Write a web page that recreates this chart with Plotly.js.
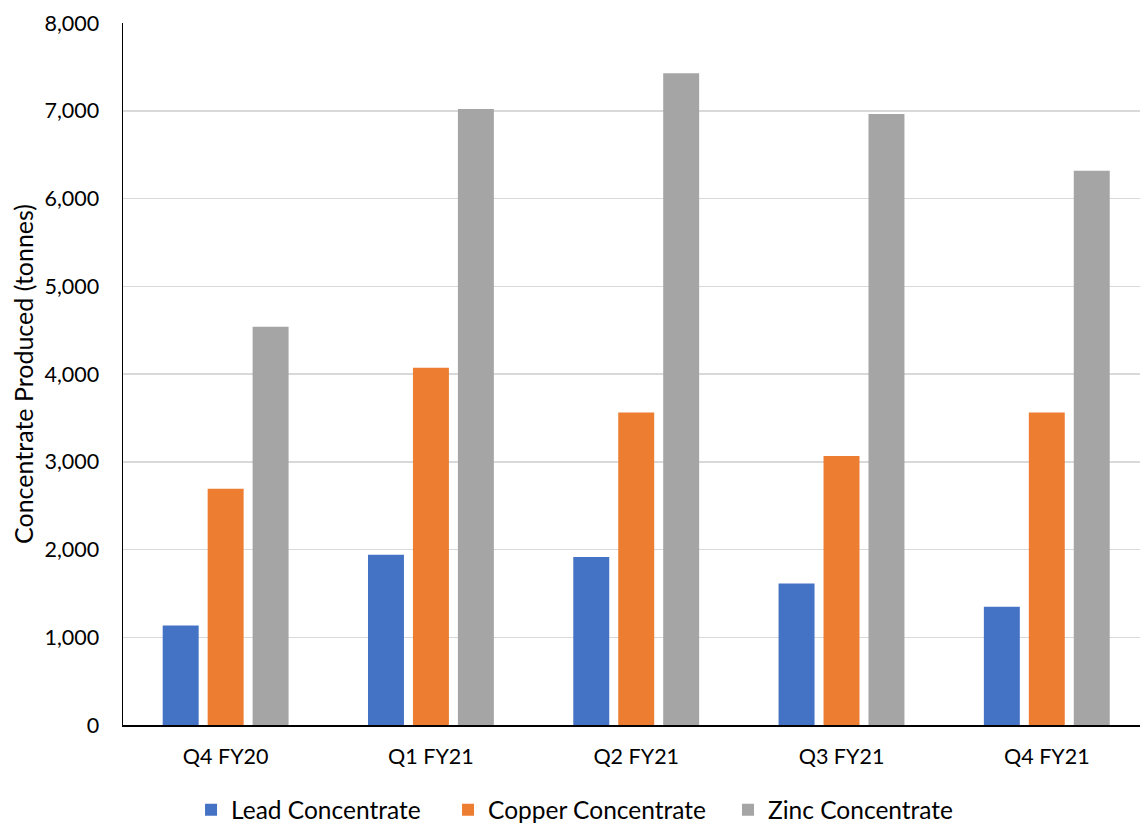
<!DOCTYPE html>
<html>
<head>
<meta charset="utf-8">
<script src="https://cdn.plot.ly/plotly-3.0.1.min.js"></script>
<style>
  html, body { margin: 0; padding: 0; background: #fff; }
  #chart { width: 1140px; height: 823px; }
</style>
</head>
<body>
<div id="chart"></div>
<script>
const categories = ["Q4 FY20", "Q1 FY21", "Q2 FY21", "Q3 FY21", "Q4 FY21"];
const leadConcentrate = [1133, 1941, 1914, 1613, 1348];
const copperConcentrate = [2693, 4071, 3561, 3066, 3562];
const zincConcentrate = [4538, 7020, 7427, 6962, 6315];
const seriesNames = ["Lead Concentrate", "Copper Concentrate", "Zinc Concentrate"];
const seriesColors = ["#4472C4", "#ED7D31", "#A5A5A5"];
const yTickValues = [0, 1000, 2000, 3000, 4000, 5000, 6000, 7000, 8000];

const FONT = "Lato, 'Open Sans', sans-serif";
const allSeries = [leadConcentrate, copperConcentrate, zincConcentrate];
const legendIds = ["legend", "legend2", "legend3"];
const legendX = [0.0669, 0.3196, 0.5949];

const traces = allSeries.map((vals, i) => ({
  type: "bar",
  name: seriesNames[i],
  x: categories,
  y: vals,
  legend: legendIds[i],
  marker: { color: seriesColors[i], line: { width: 0 } },
  hoverinfo: "x+y+name"
}));

const layout = {
  width: 1140,
  height: 823,
  paper_bgcolor: "#ffffff",
  plot_bgcolor: "#ffffff",
  margin: { l: 123, r: 0, t: 23, b: 98, autoexpand: false },
  barmode: "group",
  bargap: 0.343,
  bargroupgap: 0.2,
  font: { family: FONT, size: 21, color: "#000000" },
  xaxis: {
    type: "category",
    range: [-0.5, 4.454],
    showline: true,
    linecolor: "#000000",
    linewidth: 1.5,
    showgrid: false,
    ticks: "",
    tickfont: { family: FONT, size: 21.5, color: "#000000" },
    ticklabelstandoff: 12,
    fixedrange: true
  },
  yaxis: {
    range: [0, 8000],
    tickvals: yTickValues,
    tickformat: ",d",
    showline: true,
    linecolor: "#000000",
    linewidth: 1.5,
    showgrid: true,
    gridcolor: "#D9D9D9",
    gridwidth: 1.5,
    zeroline: false,
    ticks: "",
    tickfont: { family: FONT, size: 21.5, color: "#000000" },
    ticklabelstandoff: 18,
    title: { text: "Concentrate Produced (tonnes)", font: { family: FONT, size: 25, color: "#000000" }, standoff: 3 },
    fixedrange: true
  },
  showlegend: true
};

legendIds.forEach((id, i) => {
  layout[id] = {
    orientation: "h",
    x: legendX[i],
    xanchor: "left",
    y: -0.121,
    yanchor: "middle",
    bgcolor: "rgba(0,0,0,0)",
    font: { family: FONT, size: 24.5, color: "#000000" }
  };
});

Plotly.newPlot("chart", traces, layout, { displayModeBar: false, staticPlot: true });
</script>
</body>
</html>
